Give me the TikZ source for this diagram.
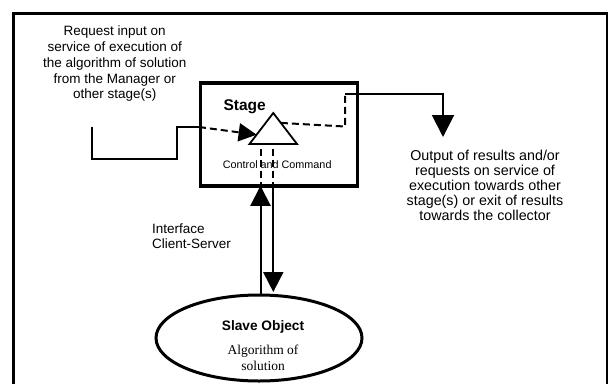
\documentclass[tikz,border=0pt]{standalone}
\usepackage{fontspec}
\setmainfont{Liberation Sans}
\newfontfamily\serifface{Liberation Serif}
\usetikzlibrary{arrows.meta,calc,shapes.geometric}

\begin{document}
\begin{tikzpicture}[x=1pt,y=-1pt,
  conn/.style={line width=2pt},
  dashconn/.style={line width=2pt,dash pattern=on 7pt off 4pt},
  headtip/.style={-{Triangle[length=#1,width=#1]}},
  note/.style={font=\fontsize{13.5}{15.8}\selectfont, align=center, inner sep=0pt},
]
\useasboundingbox (0,0) rectangle (609,383);
\fill[white] (0,0) rectangle (609,383);

% outer frame, open at the bottom
\draw[line width=2.2pt] (13.5,384) -- (13.5,13.5) -- (607,13.5) -- (607,384);

% the stage
\node[draw, line width=3.5pt, minimum width=156.6pt, minimum height=103pt, inner sep=0pt] (stage) at (279,134.5) {};
\node[font=\bfseries\fontsize{15.5}{18}\selectfont, inner sep=0pt, anchor=base] (stagelbl) at (244.7,110) {Stage};
\node[font=\fontsize{10.8}{13}\selectfont, inner sep=0pt, anchor=base] (ctllbl) at (277.2,168.7) {Control and Command};

% control triangle
\coordinate (apex) at (273.25,113);
\coordinate (bl) at (249.5,144);
\coordinate (br) at (297,144);
\draw[line width=1.8pt, fill=white] (apex) -- (bl) -- (br) -- cycle;

% slave object
\node[draw, ellipse, line width=3pt, minimum width=206pt, minimum height=86pt, inner sep=0pt] (slave) at (259,338) {};
\node[font=\bfseries\fontsize{13.7}{16}\selectfont, inner sep=0pt, anchor=base] (slavelbl) at (263,330.7) {Slave Object};
\node[font=\serifface\fontsize{13.5}{16}\selectfont, align=center, inner sep=0pt, anchor=north] (algolbl) at (263,344.8) {Algorithm of\\solution};

% texts
\node[note, anchor=north] (reqlbl) at (114.7,25.7) {Request input on\\service of execution of\\the algorithm of solution\\from the Manager or\\other stage(s)};
\node[note, anchor=north, font=\fontsize{14.3}{15}\selectfont] (outlbl) at (485,149.8) {Output of results and/or\\requests on service of\\execution towards other\\stage(s) or exit of results\\towards the collector};
\node[note, anchor=north west, align=left, font=\fontsize{13.5}{15}\selectfont] (iflbl) at (152,223.9) {Interface\\Client-Server};

% incoming request
\coordinate (inStart) at (92,127);
\coordinate (inTip) at ($(apex)!0.7!(bl)$);
\draw[conn] (inStart) -- ++(0,32) -- ++(85,0) -- ++(0,-32) -- (stage.west |- inStart);
\draw[dashconn, headtip=18pt] (stage.west |- inStart) -- (inTip);

% outgoing results
\coordinate (outStart) at ($(apex)!0.32!(br)$);
\coordinate (outCorner) at (345,126.5);
\coordinate (outUp) at (345,94);
\coordinate (outEnd) at (443,137);
\draw[dashconn] (outStart) -- (outCorner) -- (outUp);
\draw[conn, headtip=22pt] (outUp) -- (outEnd |- outUp) -- (outEnd);

% client-server interface
\coordinate (upx) at (260.5,149);
\coordinate (dnx) at (273.3,149);
\coordinate (dnEnd) at (273.3,292);
\draw[dashconn] (upx) -- (stage.south -| upx);
\draw[dashconn] (dnx) -- (stage.south -| dnx);
\draw[conn, headtip=20pt, shorten >=-2pt] (slave.north -| upx) -- (stage.south -| upx);
\draw[conn, headtip=20pt] (stage.south -| dnx) -- (dnEnd);
\end{tikzpicture}
\end{document}
